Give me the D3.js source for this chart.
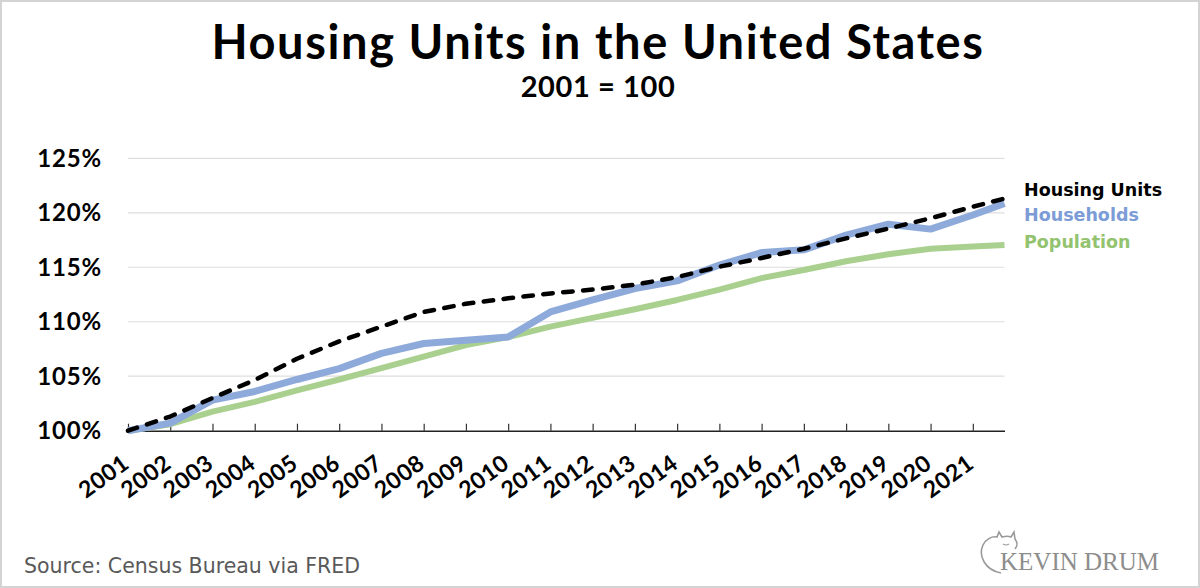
<!DOCTYPE html>
<html>
<head>
<meta charset="utf-8">
<script src="https://cdn.jsdelivr.net/npm/d3@7"></script>
<style>
  html, body { margin: 0; padding: 0; background: #fff; }
  svg { display: block; }
</style>
</head>
<body>
<svg id="chart" width="1200" height="588"></svg>
<script>
// x positions: year starts, last point is 2021 Q4
const years = [2001, 2002, 2003, 2004, 2005, 2006, 2007, 2008, 2009, 2010, 2011,
  2012, 2013, 2014, 2015, 2016, 2017, 2018, 2019, 2020, 2021, 2021.75];
const housingUnits = [100, 101.3, 103.0, 104.65, 106.6, 108.2, 109.55, 110.9, 111.65, 112.15, 112.6,
  112.95, 113.4, 114.1, 115.05, 115.85, 116.7, 117.65, 118.55, 119.5, 120.55, 121.3];
const households = [100, 100.7, 102.8, 103.6, 104.7, 105.7, 107.1, 108.0, 108.3, 108.6, 110.9,
  112.0, 113.05, 113.75, 115.2, 116.35, 116.6, 117.95, 118.95, 118.5, 119.8, 120.85];
const population = [100, 100.6, 101.75, 102.65, 103.7, 104.7, 105.75, 106.8, 107.85, 108.6, 109.55,
  110.35, 111.15, 112.0, 112.95, 114.0, 114.75, 115.55, 116.2, 116.7, 116.9, 117.05];

const yTicks = [100, 105, 110, 115, 120, 125];
const xTickYears = d3.range(2001, 2022);

const legendLabels = ["Housing Units", "Households", "Population"];

const svg = d3.select("#chart");
const W = 1200, H = 588;

const x = d3.scaleLinear().domain([2001, 2021.75]).range([128, 1004.5]);
const y = d3.scaleLinear().domain([100, 125]).range([430.7, 158.3]);

const boldFont = "Lato, 'Open Sans', sans-serif";

// frame
svg.append("rect")
  .attr("x", 1).attr("y", 1).attr("width", W - 2).attr("height", H - 2)
  .attr("fill", "#fff").attr("stroke", "#d3d3d3").attr("stroke-width", 2);

// title
svg.append("text")
  .attr("x", 598).attr("y", 58.5)
  .attr("text-anchor", "middle")
  .style("font-family", boldFont).style("font-weight", 700).style("font-size", "47px")
  .style("letter-spacing", "1.6px")
  .attr("fill", "#000")
  .text("Housing Units in the United States");

svg.append("text")
  .attr("x", 598).attr("y", 97)
  .attr("text-anchor", "middle")
  .style("font-family", boldFont).style("font-weight", 700).style("font-size", "29px")
  .style("letter-spacing", "0.6px")
  .attr("fill", "#000")
  .text("2001 = 100");

// gridlines
svg.append("g")
  .selectAll("line")
  .data(yTicks.filter(d => d > 100))
  .join("line")
  .attr("x1", x.range()[0]).attr("x2", x.range()[1])
  .attr("y1", d => y(d)).attr("y2", d => y(d))
  .attr("stroke", "#dedede").attr("stroke-width", 1.2);

// y labels
svg.append("g")
  .selectAll("text")
  .data(yTicks)
  .join("text")
  .attr("x", 102).attr("y", d => y(d))
  .attr("dy", "0.36em")
  .attr("text-anchor", "end")
  .style("font-family", boldFont).style("font-weight", 700).style("font-size", "24px")
  .style("letter-spacing", "0.8px")
  .attr("fill", "#000")
  .text(d => d + "%");

// x axis, ticks point up into the plot
const xAxis = d3.axisBottom(x)
  .tickValues(xTickYears)
  .tickSizeInner(-7)
  .tickSizeOuter(0)
  .tickFormat(d3.format("d"));

const gx = svg.append("g")
  .attr("transform", `translate(0,${y(100)})`)
  .call(xAxis);

gx.select(".domain").attr("stroke", "#222").attr("stroke-width", 1.5);
gx.selectAll(".tick line").attr("stroke", "#333").attr("stroke-width", 1.2);
gx.selectAll(".tick text")
  .attr("y", 0).attr("dy", 0)
  .attr("text-anchor", "end")
  .attr("transform", "translate(2,36) rotate(-36)")
  .style("font-family", boldFont).style("font-weight", 700).style("font-size", "23px")
  .style("letter-spacing", "0.4px")
  .attr("fill", "#000");

// lines
const line = d3.line()
  .x((d, i) => x(years[i]))
  .y(d => y(d));

svg.append("path")
  .datum(population)
  .attr("d", line)
  .attr("fill", "none")
  .attr("stroke", "#a9d08e").attr("stroke-width", 6)
  .attr("stroke-linejoin", "round");

svg.append("path")
  .datum(households)
  .attr("d", line)
  .attr("fill", "none")
  .attr("stroke", "#8eaadb").attr("stroke-width", 7)
  .attr("stroke-linejoin", "round");

svg.append("path")
  .datum(housingUnits)
  .attr("d", line)
  .attr("fill", "none")
  .attr("stroke", "#000").attr("stroke-width", 4.5)
  .attr("stroke-dasharray", "9.5,10.5")
  .attr("stroke-linecap", "round")
  .attr("stroke-linejoin", "round");

// legend
const legendColors = ["#000", "#7b9cd6", "#93c36f"];
const legendY = [196, 221, 248];
svg.append("g")
  .selectAll("text")
  .data(legendLabels)
  .join("text")
  .attr("x", 1024).attr("y", (d, i) => legendY[i])
  .style("font-family", "'DejaVu Sans', Verdana, sans-serif").style("font-weight", 700)
  .style("font-size", "17.5px")
  .attr("fill", (d, i) => legendColors[i])
  .text(d => d);

// source
svg.append("text")
  .attr("x", 24).attr("y", 573)
  .style("font-family", "'DejaVu Sans', Verdana, sans-serif")
  .style("font-size", "20.5px")
  .attr("fill", "#595959")
  .text("Source: Census Bureau via FRED");

// logo
const logo = svg.append("g").attr("fill", "none").attr("stroke", "#9a9a9a").attr("stroke-width", 1.6);
logo.append("path")
  .attr("d", "M1001,573 C985,570 978,556 983,545 C986,539 992,536 997,537 L999,532 L1002,537 C1006,536 1009,536 1011,537 L1014,532 L1015,539 C1018,543 1017,547 1015,549");
logo.append("path")
  .attr("d", "M1003,544 Q1006,546 1009,544")
  .attr("stroke-width", 1.2);
svg.append("text")
  .attr("x", 1000).attr("y", 570)
  .style("font-family", "'Liberation Serif', 'DejaVu Serif', serif")
  .style("font-size", "25px")
  .attr("fill", "#8d8d8d")
  .text("KEVIN DRUM");
</script>
</body>
</html>
